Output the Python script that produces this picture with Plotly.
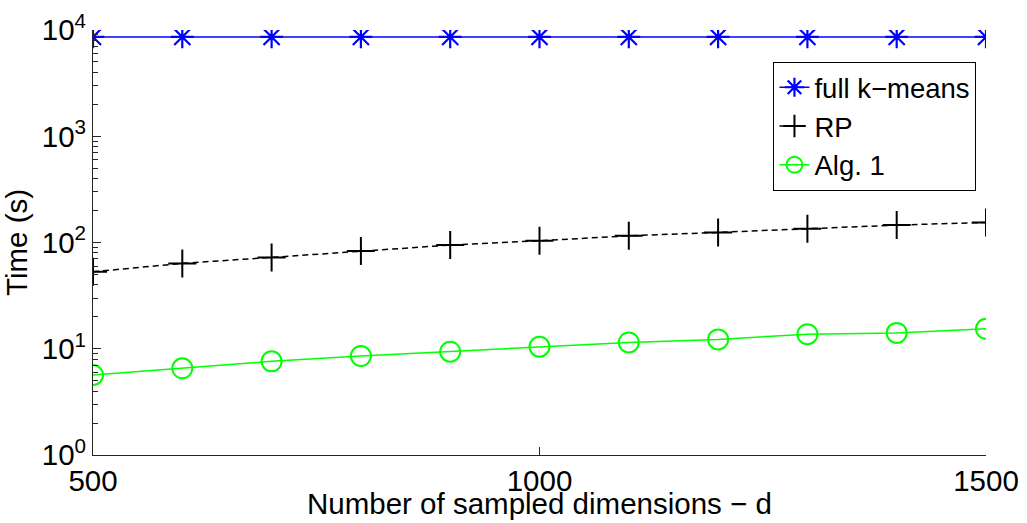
import plotly.graph_objects as go

# Sampled dimensions d
dims = [500, 600, 700, 800, 900, 1000, 1100, 1200, 1300, 1400, 1500]

# Running times in seconds
full_kmeans = [8600, 8600, 8600, 8600, 8600, 8600, 8600, 8600, 8600, 8600, 8600]
rp_time = [53.0, 63.6, 72.4, 83.0, 94.6, 103.8, 115.6, 124.5, 134.5, 145.8, 154.6]
alg1_time = [5.66, 6.54, 7.61, 8.54, 9.38, 10.44, 11.47, 12.25, 13.7, 14.1, 15.4]

y_tickvals = [1, 10, 100, 1000, 10000]
y_ticktext = ["10<sup>0</sup>", "10<sup>1</sup>", "10<sup>2</sup>", "10<sup>3</sup>", "10<sup>4</sup>"]
x_tickvals = [500, 1000, 1500]

# minor log ticks: 2..9 within each decade
y_minor = [m * 10 ** e for e in range(4) for m in range(2, 10)]

FONT = "Liberation Sans, Arial, Helvetica, sans-serif"
FS = 29.5
AXIS_COLOR = "#262626"

fig = go.Figure()

fig.add_trace(go.Scatter(
    x=dims, y=full_kmeans, name="full k\u2212means", mode="lines+markers",
    line=dict(color="#0000FF", width=1.5),
    marker=dict(symbol="asterisk-open", size=19, color="#0000FF",
                line=dict(color="#0000FF", width=2.2)),
))
fig.add_trace(go.Scatter(
    x=dims, y=rp_time, name="RP", mode="lines+markers",
    line=dict(color="#000000", width=1.5, dash="6px,4px"),
    marker=dict(symbol="cross-thin-open", size=20, color="#000000",
                line=dict(color="#000000", width=2)),
))
fig.add_trace(go.Scatter(
    x=dims, y=alg1_time, name="Alg. 1", mode="lines+markers",
    line=dict(color="#00FF00", width=1.5),
    marker=dict(symbol="circle-open", size=20, color="#00FF00",
                line=dict(color="#00FF00", width=2)),
))

fig.update_layout(
    width=1027, height=523,
    margin=dict(l=93, r=41, t=30, b=68),
    paper_bgcolor="white", plot_bgcolor="white",
    font=dict(family=FONT, size=FS, color="#000000"),
    showlegend=True,
    legend=dict(
        x=0.762, y=0.925, xanchor="left", yanchor="top",
        bgcolor="white", bordercolor="#000000", borderwidth=1,
        font=dict(family=FONT, size=27.5, color="#000000"),
        itemwidth=30, tracegroupgap=0,
    ),
    xaxis=dict(
        range=[500, 1500], tickvals=x_tickvals, ticktext=[str(v) for v in x_tickvals],
        ticks="inside", ticklen=8, tickcolor=AXIS_COLOR, tickwidth=1,
        showline=True, linecolor=AXIS_COLOR, linewidth=1, mirror=False,
        showgrid=False, zeroline=False, automargin=False,
        ticklabelstandoff=0,
        tickfont=dict(family=FONT, size=FS),
    ),
    yaxis=dict(
        type="log", range=[0, 4], tickvals=y_tickvals, ticktext=y_ticktext,
        ticks="inside", ticklen=8, tickcolor=AXIS_COLOR, tickwidth=1,
        minor=dict(tickvals=y_minor, ticks="inside", ticklen=5,
                   tickcolor=AXIS_COLOR, showgrid=False),
        showline=True, linecolor=AXIS_COLOR, linewidth=1, mirror=False,
        showgrid=False, zeroline=False, automargin=False,
        title=dict(text="Time (s)", standoff=6, font=dict(family=FONT, size=FS)),
        tickfont=dict(family=FONT, size=FS),
    ),
    annotations=[
        dict(text="Number of sampled dimensions \u2212 d",
             xref="paper", yref="paper", x=0.5, y=-0.113,
             xanchor="center", yanchor="middle", showarrow=False,
             font=dict(family=FONT, size=FS, color="#000000")),
    ],
)

fig.write_html("out.html")
